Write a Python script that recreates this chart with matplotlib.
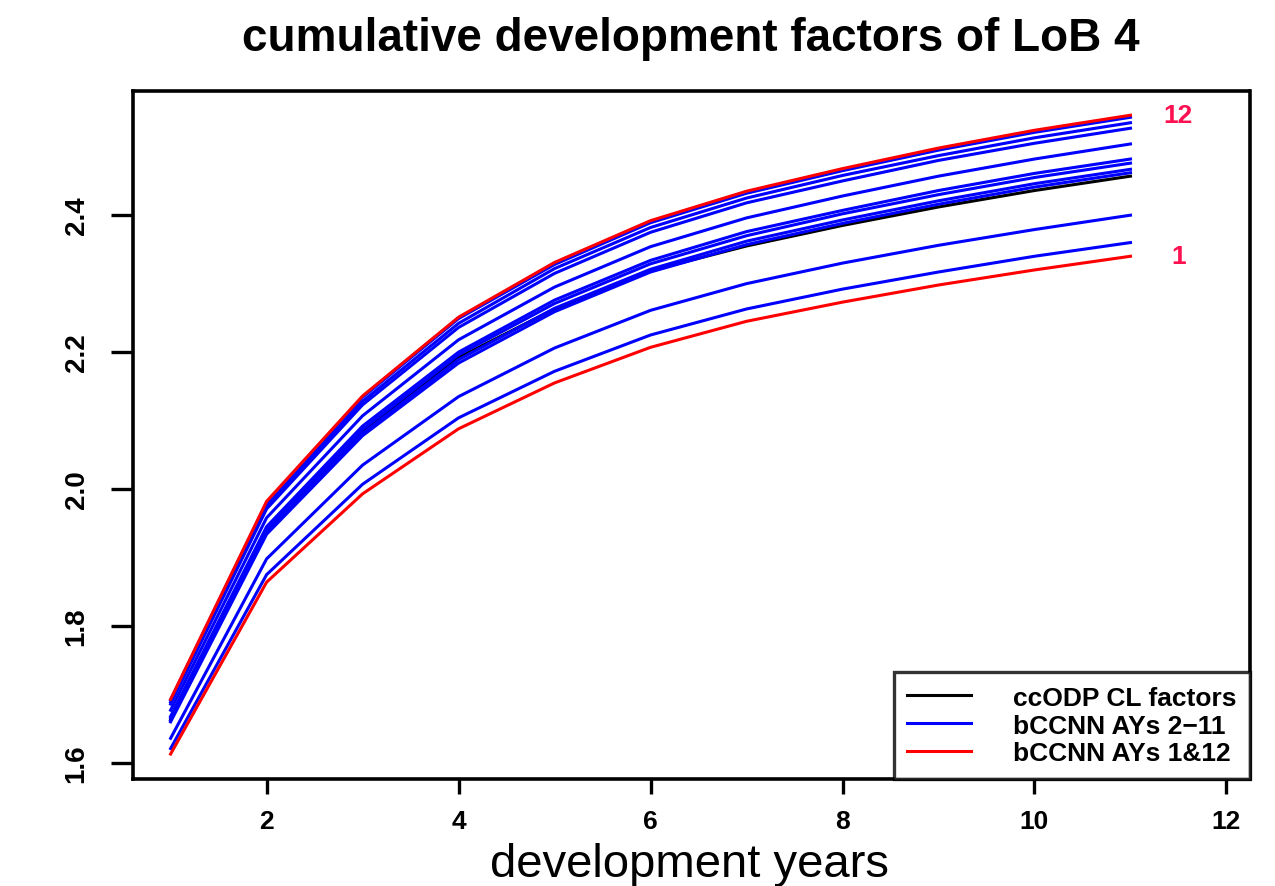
import matplotlib
matplotlib.use("Agg")
import matplotlib.pyplot as plt

plt.rcParams['font.family'] = ['Liberation Sans', 'DejaVu Sans']

dev_years = [1, 2, 3, 4, 5, 6, 7, 8, 9, 10, 11]

# chain-ladder factors (ccODP)
cl_factors = [1.663, 1.939, 2.085, 2.192, 2.263, 2.319, 2.355, 2.385, 2.412, 2.436, 2.457]

# bCCNN factors, accident years 2-11
bccnn_mid = [
    [1.692, 1.980, 2.134, 2.249, 2.328, 2.389, 2.432, 2.465, 2.495, 2.521, 2.543],
    [1.689, 1.976, 2.128, 2.242, 2.322, 2.382, 2.425, 2.458, 2.487, 2.513, 2.535],
    [1.686, 1.971, 2.123, 2.236, 2.315, 2.375, 2.418, 2.450, 2.480, 2.505, 2.527],
    [1.677, 1.958, 2.107, 2.218, 2.295, 2.354, 2.396, 2.428, 2.457, 2.482, 2.504],
    [1.668, 1.945, 2.092, 2.200, 2.276, 2.334, 2.376, 2.407, 2.436, 2.461, 2.482],
    [1.666, 1.942, 2.087, 2.196, 2.271, 2.329, 2.370, 2.402, 2.430, 2.455, 2.476],
    [1.662, 1.937, 2.081, 2.189, 2.264, 2.321, 2.362, 2.393, 2.421, 2.446, 2.467],
    [1.660, 1.934, 2.078, 2.184, 2.259, 2.317, 2.357, 2.388, 2.416, 2.441, 2.462],
    [1.636, 1.898, 2.035, 2.135, 2.206, 2.261, 2.300, 2.330, 2.356, 2.379, 2.400],
    [1.621, 1.875, 2.007, 2.104, 2.172, 2.225, 2.263, 2.292, 2.317, 2.340, 2.360],
]

# bCCNN factors, accident years 1 and 12
bccnn_ay1 = [1.613, 1.864, 1.993, 2.088, 2.155, 2.207, 2.245, 2.273, 2.298, 2.320, 2.340]
bccnn_ay12 = [1.693, 1.982, 2.136, 2.251, 2.331, 2.392, 2.435, 2.468, 2.498, 2.524, 2.546]

x_ticks = [2, 4, 6, 8, 10, 12]
y_ticks = [1.6, 1.8, 2.0, 2.2, 2.4]

fig = plt.figure(figsize=(12.75, 8.87), dpi=100)
ax = fig.add_axes([0.104, 0.121, 0.876, 0.775])

lw = 2.2
ax.plot(dev_years, cl_factors, color='black', lw=lw, label='ccODP CL factors', zorder=2)
for i, row in enumerate(bccnn_mid):
    ax.plot(dev_years, row, color='#0000ff', lw=lw,
            label='bCCNN AYs 2\u221211' if i == 0 else None, zorder=3)
ax.plot(dev_years, bccnn_ay1, color='#ff0000', lw=lw, label='bCCNN AYs 1&12', zorder=4)
ax.plot(dev_years, bccnn_ay12, color='#ff0000', lw=lw, zorder=4)

# accident year labels at the end of the red curves
ax.text(11.5, bccnn_ay12[-1], '12', color='#ff1050', fontsize=19, fontweight='bold',
        ha='center', va='center')
ax.text(11.5, bccnn_ay1[-1], '1', color='#ff1050', fontsize=19, fontweight='bold',
        ha='center', va='center')

ax.set_xlim(0.604, 12.24)
ax.set_ylim(1.577, 2.581)
ax.set_xticks(x_ticks)
ax.set_xticklabels([str(v) for v in x_ticks], fontsize=19, fontweight='bold')
ax.set_yticks(y_ticks)
ax.set_yticklabels([f'{v:.1f}' for v in y_ticks], rotation=90, va='center',
                   fontsize=20, fontweight='bold')

for s in ax.spines.values():
    s.set_linewidth(2.6)
ax.tick_params(axis='x', length=11, width=2.4, pad=11)
ax.tick_params(axis='y', length=16, width=2.4, pad=15)

ax.set_title('cumulative development factors of LoB 4', fontsize=33, fontweight='bold', pad=30)
fig.text(0.541, 0.0, 'development years', fontsize=34, ha='center', va='bottom')

leg = ax.legend(loc='lower right', fontsize=19, frameon=True, fancybox=False,
                borderaxespad=0, handlelength=2.4, handletextpad=1.6,
                borderpad=0.5, labelspacing=0.15)
leg.get_frame().set_edgecolor('black')
leg.get_frame().set_linewidth(2.4)
for t in leg.get_texts():
    t.set_fontweight('bold')

fig.savefig('out.png', dpi=100)
